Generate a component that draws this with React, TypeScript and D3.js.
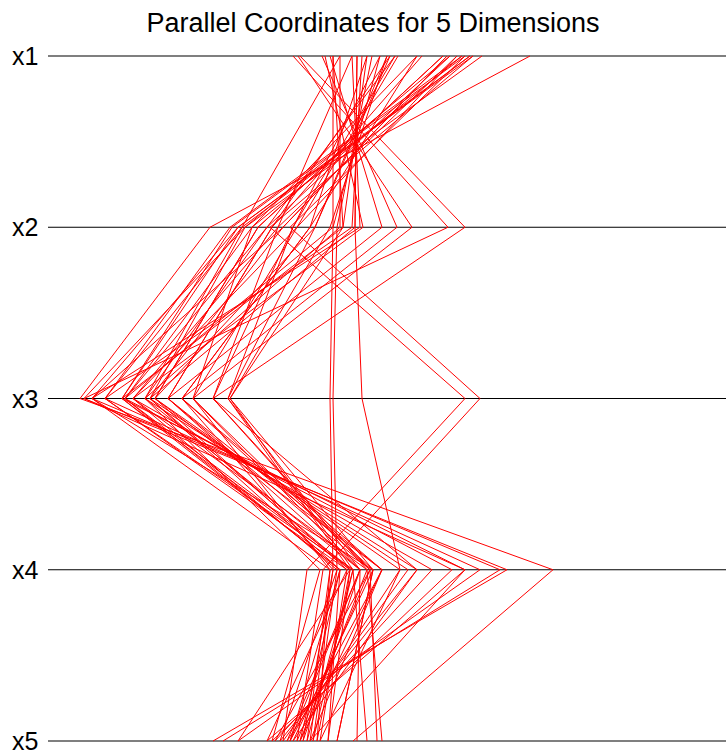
import React from "react";
import * as d3 from "d3";

const dimensions = ["x1", "x2", "x3", "x4", "x5"];
const chartTitle = "Parallel Coordinates for 5 Dimensions";

const x1Values = [2.82, 2.34, 2.25, 2.22, 2.17, 2.14, 2.09, 2.02, 1.99, 1.95, 1.74, 1.69, 1.5, 1.47, 1.42, 1.39, 1.32, 1.24, 1.19, 1.14, 1.09, 1.04, 0.92, 0.85, 0.82, 0.77, 0.74, 0.5, 0.45, 0.52, 2.25, 2.17, 1.09, 2.02, 1.95, 2.22, 2.14, 1.99, 2.09, 1.42, 1.19, 0.92, 1.69, 1.47, 1.32, 1.04, 0.85, 1.39];
const x2Values = [-0.38, -0.03, -0.1, -0.06, -0.16, 0.04, 0.3, 0.19, 0.35, 0.1, 0.24, 0.62, 0.49, 0.45, 0.67, 0.82, 0.85, 0.89, 0.95, 1.04, 1.07, 1.12, 0.92, 0.85, 1.34, 1.15, 1.49, 1.64, 2.0, 2.17, 0.22, 0.42, 1.07, -0.03, 0.1, -0.1, -0.18, 0.35, 0.49, 0.24, 0.62, -0.06, 0.04, 0.19, 0.45, 0.3, 0.95, 0.67];
const x3Values = [-1.68, -1.64, -1.56, -1.43, -1.26, -1.23, -1.15, -1.03, -0.98, -0.93, -0.8, -0.66, -0.55, -0.35, -0.2, -0.18, 0.82, 0.85, -1.26, -1.43, -0.98, -1.56, -1.03, -1.23, -0.8, -1.15, -0.66, -0.55, -1.64, -0.35, 2.17, 2.32, 1.14, -0.98, -0.93, -1.26, -1.43, -1.56, -1.15, -0.8, -0.66, -1.03, -0.55, -1.23, -0.2, -0.35, -0.18, -0.93];
const x4Values = [3.05, 2.59, 2.52, 2.32, 2.17, 2.04, 1.84, 1.69, 1.6, 1.52, 1.34, 1.25, 1.22, 1.19, 1.12, 1.05, 0.85, 0.89, 1.02, 0.99, 0.92, 1.25, 1.12, 1.05, 1.22, 1.19, 1.34, 1.12, 2.17, 1.69, 0.59, 0.75, 1.52, 1.02, 0.99, 0.92, 1.05, 0.82, 0.89, 1.12, 0.85, 0.72, 0.82, 0.92, 1.02, 1.22, 1.25, 1.34];
const x5Values = [1.05, -0.35, -0.25, -0.1, 0.19, 0.24, 0.27, 0.32, 0.35, 0.39, 0.42, 0.45, 0.49, 0.52, 0.55, 0.59, 0.62, 0.65, 0.69, 0.72, 0.8, 0.89, 1.09, 1.19, 1.29, 1.34, 0.52, 0.42, 0.62, 0.45, 0.35, 0.49, 0.72, -0.1, 0.19, 0.52, 0.65, 0.69, 0.32, 0.39, 0.55, 0.24, 0.59, 0.42, 0.8, 0.27, 0.89, 0.62];

const valueDomain = [-2.0, 4.78];

export default function App() {
  const width = 726;
  const height = 755;
  const x = d3.scaleLinear().domain(valueDomain).range([48, 726]);
  const y = d3.scalePoint<string>().domain(dimensions).range([56, 741]);
  const columns = [x1Values, x2Values, x3Values, x4Values, x5Values];
  const rows = x1Values.map((_, i) => columns.map((col, j) => ({ dim: dimensions[j], v: col[i] })));
  const line = d3
    .line<{ dim: string; v: number }>()
    .x((d) => x(d.v))
    .y((d) => y(d.dim) as number);

  return (
    <svg
      width={width}
      height={height}
      style={{ position: "fixed", left: 0, top: 0, background: "#fff" }}
      fontFamily="'Liberation Sans', Arial, sans-serif"
    >
      <rect width={width} height={height} fill="#fff" />
      <text x={373} y={32} textAnchor="middle" fontSize={27} fill="#000">
        {chartTitle}
      </text>
      {dimensions.map((d) => (
        <g key={d}>
          <line x1={48} x2={726} y1={y(d)} y2={y(d)} stroke="#000" strokeWidth={1.2} />
          <text x={12} y={(y(d) as number) + 9} fontSize={25} fill="#000">
            {d}
          </text>
        </g>
      ))}
      <g fill="none" stroke="#ff0000" strokeWidth={1}>
        {rows.map((r, i) => (
          <path key={i} d={line(r) || ""} />
        ))}
      </g>
    </svg>
  );
}
